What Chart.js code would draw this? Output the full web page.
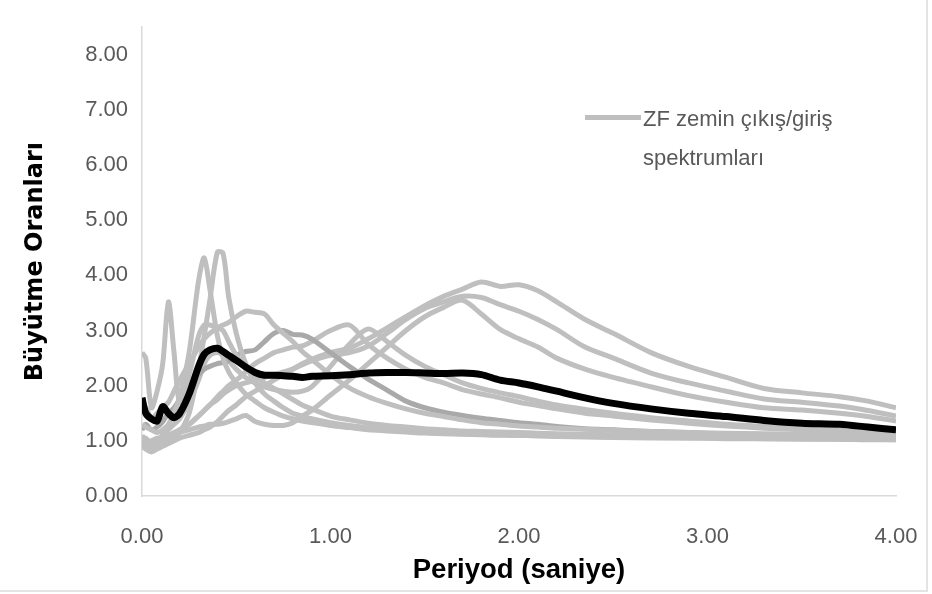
<!DOCTYPE html>
<html>
<head>
<meta charset="utf-8">
<script src="https://cdn.jsdelivr.net/npm/chart.js@4.4.1/dist/chart.umd.min.js"></script>
<style>
  html, body { margin: 0; padding: 0; background: #ffffff; }
  #wrap { position: relative; width: 932px; height: 594px; }
  #legend { position: absolute; left: 585px; top: 99px; font-family: "Liberation Sans", Arial, sans-serif; font-size: 22px; color: #595959; }
  #legend .sw { position: absolute; left: 0; top: 16px; width: 56px; height: 5px; background: #bfbfbf; }
  #legend .tx { position: absolute; left: 58px; top: 0; white-space: nowrap; line-height: 39px; }
  .frame-b { position: absolute; left: 0; top: 590px; width: 928px; height: 2px; background: #e4e4e4; }
  .frame-r { position: absolute; left: 926px; top: 0; width: 2px; height: 592px; background: #e4e4e4; }
</style>
</head>
<body>
<div id="wrap">
  <canvas id="c" width="932" height="594"></canvas>
  <div id="legend"><div class="sw"></div><div class="tx">ZF zemin çıkış/giriş<br>spektrumları</div></div>
  <div class="frame-b"></div>
  <div class="frame-r"></div>
</div>
<script>
// Period (s) sample points
const periods = [0,0.02,0.05,0.08,0.11,0.14,0.17,0.2,0.25,0.3,0.33,0.36,0.4,0.43,0.46,0.5,0.55,0.6,0.65,0.7,0.75,0.8,0.85,0.9,1.0,1.1,1.2,1.3,1.4,1.5,1.6,1.7,1.8,1.9,2.0,2.1,2.2,2.35,2.5,2.7,2.9,3.1,3.3,3.5,3.7,3.85,4.0];

// Mean amplification ratio (black)
const meanRatio = [1.78,1.5,1.4,1.36,1.62, 1.5,1.42,1.5,1.85,2.35, 2.57,2.65,2.68,2.62,2.55, 2.46,2.34,2.24,2.19,2.19, 2.18,2.17,2.15,2.17,2.18, 2.2,2.23,2.24,2.24,2.23, 2.22,2.23,2.2,2.1,2.05, 1.98,1.9,1.78,1.68,1.58, 1.5,1.44,1.37,1.32,1.3, 1.25,1.2];

// Individual ZF output/input spectra (gray)
const zfA = [1.0,0.9,0.85,0.9,0.95, 1.0,1.05,1.15,1.5,2.3, 2.9,3.55,4.42,4.4,3.6, 2.95,2.4,2.05,1.85,1.72, 1.6,1.5,1.45,1.4,1.33, 1.28,1.24,1.2,1.18,1.15, 1.14,1.13,1.12,1.11,1.1, 1.1,1.09,1.08,1.07,1.06, 1.05,1.05,1.04,1.04,1.03, 1.03,1.02];
const zfB = [1.3,1.25,1.2,1.15,1.2, 1.3,1.5,1.8,2.6,3.9, 4.32,3.75,2.9,2.5,2.25, 2.05,1.85,1.72,1.6,1.52, 1.45,1.4,1.36,1.33,1.28, 1.24,1.2,1.18,1.16,1.14, 1.13,1.12,1.11,1.1,1.1, 1.09,1.08,1.07,1.06,1.05, 1.05,1.04,1.04,1.03,1.03, 1.02,1.02];
const zfC = [2.6,2.5,1.6,1.9,2.4, 3.52,2.6,1.7,2.2,2.9, 3.1,3.1,3.05,3.0,2.8, 2.55,2.35,2.2,2.05,1.95, 1.85,1.75,1.65,1.58,1.45, 1.38,1.32,1.28,1.25,1.22, 1.2,1.18,1.17,1.16,1.15, 1.14,1.13,1.12,1.11,1.1, 1.09,1.08,1.07,1.06,1.06, 1.05,1.05];
const zfD = [1.5,1.6,1.4,1.5,1.6, 1.7,1.9,2.1,2.4,2.7, 2.85,2.95,3.05,3.1,3.15, 3.25,3.35,3.33,3.3,3.1, 2.95,2.8,2.62,2.48,2.2, 1.96,1.8,1.68,1.58,1.5, 1.44,1.38,1.33,1.3,1.27, 1.25,1.23,1.21,1.19,1.17, 1.15,1.14,1.13,1.12,1.11, 1.1,1.1];
const zfE = [1.2,1.3,1.2,1.25,1.35, 1.5,1.6,1.75,2.0,2.2, 2.3,2.35,2.4,2.42,2.45, 2.55,2.62,2.65,2.8,2.95, 3.0,2.93,2.92,2.85,2.6, 2.35,2.12,1.92,1.72,1.6, 1.52,1.46,1.41,1.37,1.33, 1.3,1.26,1.22,1.2,1.17, 1.15,1.13,1.11,1.1,1.08, 1.07,1.06];
const zfF = [1.0,1.05,0.95,1.0,1.05, 1.1,1.15,1.2,1.3,1.45, 1.55,1.65,1.8,1.9,2.0, 2.1,2.25,2.4,2.5,2.6, 2.65,2.7,2.72,2.8,3.0, 3.1,2.75,2.5,2.3,2.15, 2.05,1.93,1.85,1.78,1.7, 1.64,1.58,1.5,1.45,1.38, 1.32,1.27,1.23,1.2,1.17, 1.15,1.13];
const zfG = [1.1,1.0,0.9,1.0,1.1, 1.2,1.3,1.4,1.7,2.1, 2.4,2.55,2.6,2.55,2.45, 2.3,2.15,2.05,1.98,1.93, 1.9,1.88,1.9,1.98,2.35, 2.75,3.03,2.8,2.55,2.35, 2.2,2.05,1.95,1.87,1.8, 1.72,1.65,1.57,1.5,1.42, 1.36,1.3,1.26,1.22,1.19, 1.17,1.15];
const zfH = [0.9,0.85,0.8,0.85,0.9, 0.95,1.0,1.05,1.1,1.15, 1.2,1.25,1.35,1.45,1.55, 1.65,1.8,1.9,2.0,2.1, 2.2,2.3,2.4,2.48,2.6, 2.68,2.85,3.05,3.25,3.45, 3.62,3.75,3.88,3.8,3.83, 3.72,3.52,3.2,2.95,2.6, 2.35,2.15,1.95,1.87,1.8, 1.72,1.6];
const zfI = [1.0,0.95,0.9,0.95,1.0, 1.05,1.1,1.2,1.3,1.45, 1.55,1.65,1.75,1.85,1.92, 2.0,2.05,2.1,2.15,2.2, 2.25,2.3,2.38,2.45,2.55, 2.6,2.72,2.95,3.2,3.4, 3.52,3.62,3.6,3.47,3.35, 3.2,3.02,2.7,2.5,2.23, 2.05,1.9,1.76,1.7,1.63, 1.55,1.45];
const zfJ = [0.9,0.95,1.0,1.05,1.05, 1.1,1.1,1.15,1.2,1.25, 1.27,1.3,1.3,1.32,1.35, 1.4,1.46,1.35,1.3,1.28, 1.28,1.33,1.45,1.55,1.83, 2.1,2.4,2.7,3.0,3.25, 3.42,3.55,3.3,3.02,2.85, 2.7,2.5,2.3,2.15,1.98, 1.82,1.7,1.6,1.56,1.5, 1.44,1.36];

const grayColors = { light: '#bfbfbf', dark: '#a9a9a9' };
const graySeries = [
  { data: zfA, color: grayColors.light },
  { data: zfB, color: grayColors.light },
  { data: zfC, color: grayColors.light },
  { data: zfD, color: grayColors.light },
  { data: zfE, color: grayColors.dark },
  { data: zfF, color: grayColors.light },
  { data: zfG, color: grayColors.light },
  { data: zfH, color: grayColors.light },
  { data: zfI, color: grayColors.light },
  { data: zfJ, color: grayColors.light }
];

const toPoints = arr => arr.map((v, i) => ({ x: periods[i], y: v }));

const datasets = [{
  label: 'Ortalama',
  data: toPoints(meanRatio),
  borderColor: '#000000',
  borderWidth: 7,
  pointRadius: 0,
  tension: 0.3,
  order: 0
}].concat(graySeries.map((s, i) => ({
  label: i === 0 ? 'ZF zemin çıkış/giriş spektrumları' : 'ZF ' + (i + 1),
  data: toPoints(s.data),
  borderColor: s.color,
  borderWidth: 5,
  pointRadius: 0,
  tension: 0.3,
  order: 1
})));

new Chart(document.getElementById('c'), {
  type: 'line',
  data: { datasets },
  options: {
    responsive: false,
    animation: false,
    layout: { padding: { left: 0, right: 36, top: 24, bottom: 0 } },
    plugins: { legend: { display: false }, tooltip: { enabled: false } },
    scales: {
      x: {
        type: 'linear',
        min: 0, max: 4,
        grid: { display: false, drawTicks: false },
        border: { display: true, color: '#d9d9d9', width: 1.5 },
        ticks: {
          stepSize: 1,
          padding: 28,
          color: '#595959',
          font: { family: '"Liberation Sans", Arial, sans-serif', size: 22 },
          callback: v => Number(v).toFixed(2)
        },
        title: {
          display: true,
          text: 'Periyod (saniye)',
          color: '#000000',
          font: { family: '"Liberation Sans", Arial, sans-serif', size: 27.5, weight: 'bold' },
          padding: { top: 0, bottom: 7 }
        },
        afterFit: s => { s.height = 98; s.paddingRight = 0; s.paddingLeft = 0; }
      },
      y: {
        min: 0, max: 8.5,
        grid: { display: false, drawTicks: false },
        border: { display: true, color: '#d9d9d9', width: 1.5 },
        afterBuildTicks: s => { s.ticks = s.ticks.filter(t => Number.isInteger(t.value)); },
        ticks: {
          stepSize: 1,
          padding: 14,
          color: '#595959',
          font: { family: '"Liberation Sans", Arial, sans-serif', size: 22 },
          callback: v => Number(v).toFixed(2)
        },
        title: {
          display: true,
          text: 'Büyütme Oranları',
          color: '#000000',
          font: { family: '"DejaVu Sans", sans-serif', size: 24, weight: 'bold' },
          padding: { top: 21, bottom: 0 }
        },
        afterFit: s => { s.width = 142; }
      }
    }
  }
});
</script>
</body>
</html>
